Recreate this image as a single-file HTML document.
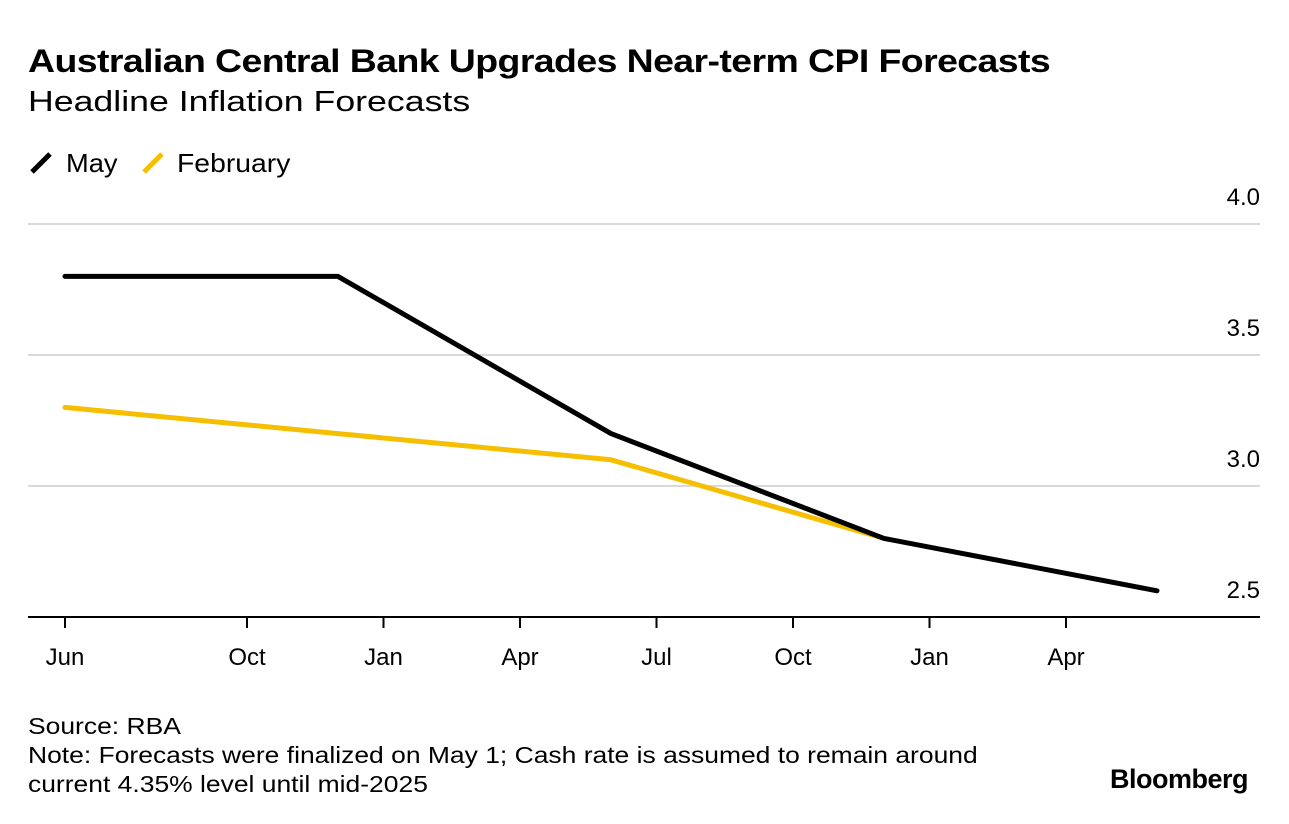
<!DOCTYPE html>
<html><head><meta charset="utf-8"><style>
body{margin:0;width:1289px;height:824px;background:#fff;font-family:"Liberation Sans",sans-serif;color:#000;position:relative;overflow:hidden}
.t{position:absolute;white-space:nowrap;transform-origin:0 0}
</style></head><body>
<div class="t" style="left:28px;top:43px;font-size:32px;font-weight:bold;letter-spacing:-0.5px;transform:scaleX(1.17)">Australian Central Bank Upgrades Near-term CPI Forecasts</div>
<div class="t" style="left:28px;top:86px;font-size:29px;transform:scaleX(1.23)">Headline Inflation Forecasts</div>
<div class="t" style="left:28px;top:148px;font-size:26px"><svg width="26" height="26" style="vertical-align:-4px"><line x1="4" x2="22" y1="22" y2="4" stroke="#000" stroke-width="5"/></svg></div>
<div class="t" style="left:66px;top:148px;font-size:26px;transform:scaleX(1.05)">May</div>
<div class="t" style="left:140px;top:148px;font-size:26px"><svg width="26" height="26" style="vertical-align:-4px"><line x1="4" x2="22" y1="22" y2="4" stroke="#f5bf00" stroke-width="5"/></svg></div>
<div class="t" style="left:177px;top:148px;font-size:26px;transform:scaleX(1.09)">February</div>
<svg id="chart" width="1289" height="824" style="position:absolute;left:0;top:0" font-family="Liberation Sans, sans-serif"></svg>
<div class="t" style="left:28px;top:712px;font-size:23px;line-height:29px;transform:scaleX(1.15)">Source: RBA<br>Note: Forecasts were finalized on May 1; Cash rate is assumed to remain around<br>current 4.35% level until mid-2025</div>
<div class="t" style="left:1110px;top:764px;font-size:27px;font-weight:bold;letter-spacing:-0.5px">Bloomberg</div>
<script>
const monthIdx=[0,6,12,18,24];
const mayVals=[3.8,3.8,3.2,2.8,2.6];
const febVals=[3.3,3.2,3.1,2.8];
const yTicks=[2.5,3.0,3.5,4.0];
const xTickMonths=[0,4,7,10,13,16,19,22];
const xTickLabels=["Jun","Oct","Jan","Apr","Jul","Oct","Jan","Apr"];
const svg=document.getElementById('chart');const NS='http://www.w3.org/2000/svg';
const X=m=>65+m*45.5;const Y=v=>617-(v-2.5)*262;
function mk(t,a){const e=document.createElementNS(NS,t);for(const k in a)e.setAttribute(k,a[k]);svg.appendChild(e);return e;}
yTicks.forEach(v=>{
 if(v>2.5){const g=mk('line',{x1:28,x2:1260,y1:Y(v),y2:Y(v),stroke:'#d9d9d9','stroke-width':2});
 
 }
 const t=mk('text',{x:1260,y:Y(v)-19,'text-anchor':'end','font-size':24});t.textContent=v.toFixed(1);
 
 
});
const ax=mk('line',{x1:28,x2:1260,y1:617,y2:617,stroke:'#000','stroke-width':2});


xTickMonths.forEach((m,i)=>{
 const tk=mk('line',{x1:X(m),x2:X(m),y1:617,y2:628,stroke:'#000','stroke-width':2});
 
 
 const t=mk('text',{x:X(m),y:665,'text-anchor':'middle','font-size':24});t.textContent=xTickLabels[i];
 
 
});
function line(vals,col,name){
 const p=mk('polyline',{points:vals.map((v,i)=>X(monthIdx[i])+','+Y(v)).join(' '),fill:'none',stroke:col,'stroke-width':5,'stroke-linejoin':'round','stroke-linecap':'round'});
 
 
}
line(febVals,'#f5bf00','february-line');
line(mayVals,'#000','may-line');
</script>
</body></html>
